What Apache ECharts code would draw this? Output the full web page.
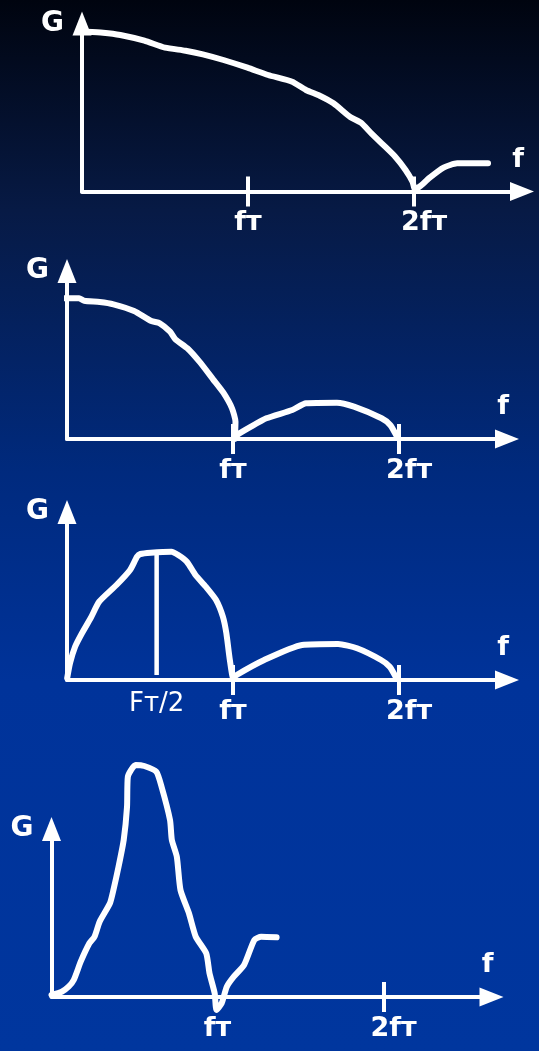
<!DOCTYPE html>
<html>
<head>
<meta charset="utf-8">
<script src="https://cdn.jsdelivr.net/npm/echarts@6/dist/echarts.min.js"></script>
<style>
  html, body { margin: 0; padding: 0; }
  #chart { width: 539px; height: 1051px; }
</style>
</head>
<body>
<div id="chart"></div>
<script>
// ticks on the f axis, in units of fт
const tickValues = [1, 2];
const tickLabels = ['fт', '2fт'];
const halfValue = 0.54;
const halfLabel = 'Fт/2';

// panel 1 - spectrum falls to zero at 2fт
const p1Freq = [0.024, 0.127, 0.231, 0.376, 0.5, 0.624, 0.728, 0.852, 0.997, 1.121, 1.266, 1.349, 1.432, 1.515, 1.618, 1.68, 1.743, 1.805, 1.887, 1.949, 1.991, 2.006, 2.033, 2.095, 2.178, 2.26, 2.446];
const p1Gain = [1.598, 1.588, 1.565, 1.508, 1.438, 1.408, 1.372, 1.315, 1.238, 1.165, 1.098, 1.015, 0.958, 0.882, 0.742, 0.688, 0.582, 0.482, 0.348, 0.215, 0.098, 0.022, 0.048, 0.138, 0.238, 0.282, 0.282];

// panel 2 - main lobe up to fт, side lobe fт..2fт
const p2Freq = [-0.021, 0.073, 0.104, 0.197, 0.28, 0.404, 0.508, 0.559, 0.621, 0.653, 0.725, 0.798, 0.88, 0.942, 0.994, 1.015, 1.011, 1.025, 1.108, 1.201, 1.357, 1.44, 1.626, 1.729, 1.895, 1.947, 1.988];
const p2Gain = [1.407, 1.407, 1.383, 1.37, 1.347, 1.28, 1.18, 1.157, 1.073, 0.997, 0.907, 0.773, 0.597, 0.463, 0.307, 0.173, 0, 0.04, 0.123, 0.207, 0.29, 0.357, 0.363, 0.323, 0.207, 0.14, 0.023];

// panel 3 - peak at Fт/2
const p3Freq = [0.001, 0.018, 0.049, 0.09, 0.142, 0.194, 0.298, 0.38, 0.422, 0.442, 0.505, 0.629, 0.67, 0.722, 0.774, 0.836, 0.898, 0.939, 0.96, 0.981, 1.002, 1.022, 1.188, 1.416, 1.633, 1.747, 1.892, 1.944, 1.985];
const p3Gain = [0.017, 0.167, 0.333, 0.467, 0.617, 0.783, 0.95, 1.1, 1.233, 1.26, 1.273, 1.283, 1.25, 1.183, 1.05, 0.933, 0.8, 0.633, 0.467, 0.2, 0.017, 0.05, 0.2, 0.35, 0.36, 0.317, 0.2, 0.133, 0.017];
const markFreq = [0.54, 0.54];
const markGain = [0.05, 1.25];

// panel 4 - narrow peak
const p4Freq = [0, 0.062, 0.103, 0.134, 0.176, 0.228, 0.259, 0.29, 0.352, 0.373, 0.404, 0.435, 0.455, 0.46, 0.507, 0.559, 0.631, 0.663, 0.714, 0.725, 0.755, 0.777, 0.828, 0.869, 0.932, 0.952, 0.983, 0.994, 1.025, 1.056, 1.098, 1.16, 1.222, 1.263, 1.356];
const p4Gain = [0.02, 0.053, 0.103, 0.17, 0.353, 0.537, 0.603, 0.753, 0.937, 1.07, 1.303, 1.57, 1.903, 2.203, 2.32, 2.31, 2.253, 2.103, 1.77, 1.57, 1.403, 1.07, 0.837, 0.603, 0.437, 0.237, 0.037, -0.13, -0.063, 0.103, 0.203, 0.32, 0.57, 0.603, 0.597];

const white = '#ffffff';
const font = 'DejaVu Sans';
const gridW = 440, gridH = 168, pxPerF = 166, pxPerG = 100;

const zip = (xs, ys) => xs.map((x, i) => [x, ys[i]]);

const panels = [
    { left: 82, top: 23.5, freq: p1Freq, gain: p1Gain, ticks: [1, 2], labels: [1, 2] },
    { left: 67, top: 271, freq: p2Freq, gain: p2Gain, ticks: [1, 2], labels: [1, 2] },
    { left: 67, top: 512, freq: p3Freq, gain: p3Gain, ticks: [1, 2], labels: [halfValue, 1, 2] },
    { left: 51.5, top: 829, freq: p4Freq, gain: p4Gain, ticks: [2], labels: [1, 2] },
];

const lineStyle = { color: white, width: 4 };

const option = {
    animation: false,
    backgroundColor: {
        type: 'linear', x: 0, y: 0, x2: 0, y2: 1,
        colorStops: [
            { offset: 0, color: '#00040f' },
            { offset: 0.2, color: '#071a45' },
            { offset: 0.45, color: '#002a7e' },
            { offset: 0.65, color: '#00339a' },
            { offset: 1, color: '#00369e' },
        ],
    },
    grid: [],
    xAxis: [],
    yAxis: [],
    series: [],
};

panels.forEach((p, i) => {
    option.grid.push({ left: p.left, top: p.top, width: gridW, height: gridH });
    // main f axis: line, arrow, lower half of ticks, labels
    option.xAxis.push({
        type: 'value', gridIndex: i, position: 'bottom',
        min: 0, max: gridW / pxPerF,
        name: 'f', nameLocation: 'end', nameGap: -4,
        nameTextStyle: {
            color: white, fontFamily: font, fontWeight: 'bold', fontSize: 27,
            align: 'center', verticalAlign: 'bottom', lineHeight: 64,
        },
        axisLine: { show: true, onZero: false, lineStyle: lineStyle, symbol: ['none', 'triangle'], symbolSize: [19, 24] },
        axisTick: { show: true, customValues: p.ticks, length: 15, lineStyle: lineStyle },
        axisLabel: {
            show: true, customValues: p.labels, margin: 18,
            formatter: function (v) {
                if (v === halfValue) return '{n|' + halfLabel + '}';
                const k = tickValues.indexOf(v);
                return k === 0 ? '{b|' + tickLabels[0] + '}' : '{w|' + tickLabels[1] + '}';
            },
            rich: {
                b: { color: white, fontFamily: font, fontWeight: 'bold', fontSize: 27, lineHeight: 27 },
                w: { color: white, fontFamily: font, fontWeight: 'bold', fontSize: 27, lineHeight: 27, padding: [0, 0, 0, 20] },
                n: { color: white, fontFamily: font, fontSize: 26, lineHeight: 13 },
            },
        },
        splitLine: { show: false },
    });
    // second f axis only for the upper half of the ticks
    option.xAxis.push({
        type: 'value', gridIndex: i, position: 'bottom',
        min: 0, max: gridW / pxPerF,
        axisLine: { show: false, onZero: false },
        axisTick: { show: true, inside: true, customValues: p.ticks, length: 15, lineStyle: lineStyle },
        axisLabel: { show: false },
        splitLine: { show: false },
    });
    option.yAxis.push({
        type: 'value', gridIndex: i,
        min: 0, max: gridH / pxPerG,
        name: 'G', nameLocation: 'end', nameGap: 0,
        nameTextStyle: {
            color: white, fontFamily: font, fontWeight: 'bold', fontSize: 28,
            align: 'right', verticalAlign: 'middle', padding: [0, 18, 0, 0],
        },
        axisLine: { show: true, onZero: false, lineStyle: lineStyle, symbol: ['none', 'triangle'], symbolSize: [19, 24] },
        axisTick: { show: false },
        axisLabel: { show: false },
        splitLine: { show: false },
    });
    option.series.push({
        type: 'line', xAxisIndex: i * 2, yAxisIndex: i,
        data: zip(p.freq, p.gain),
        showSymbol: false, smooth: 0.2, clip: false,
        lineStyle: { color: white, width: 6, cap: 'round', join: 'round' },
    });
});

// Fт/2 marker line in panel 3
option.series.push({
    type: 'line', xAxisIndex: 4, yAxisIndex: 2,
    data: zip(markFreq, markGain),
    showSymbol: false, clip: false,
    lineStyle: { color: white, width: 4.5 },
});

const chart = echarts.init(document.getElementById('chart'));
chart.setOption(option);
</script>
</body>
</html>
